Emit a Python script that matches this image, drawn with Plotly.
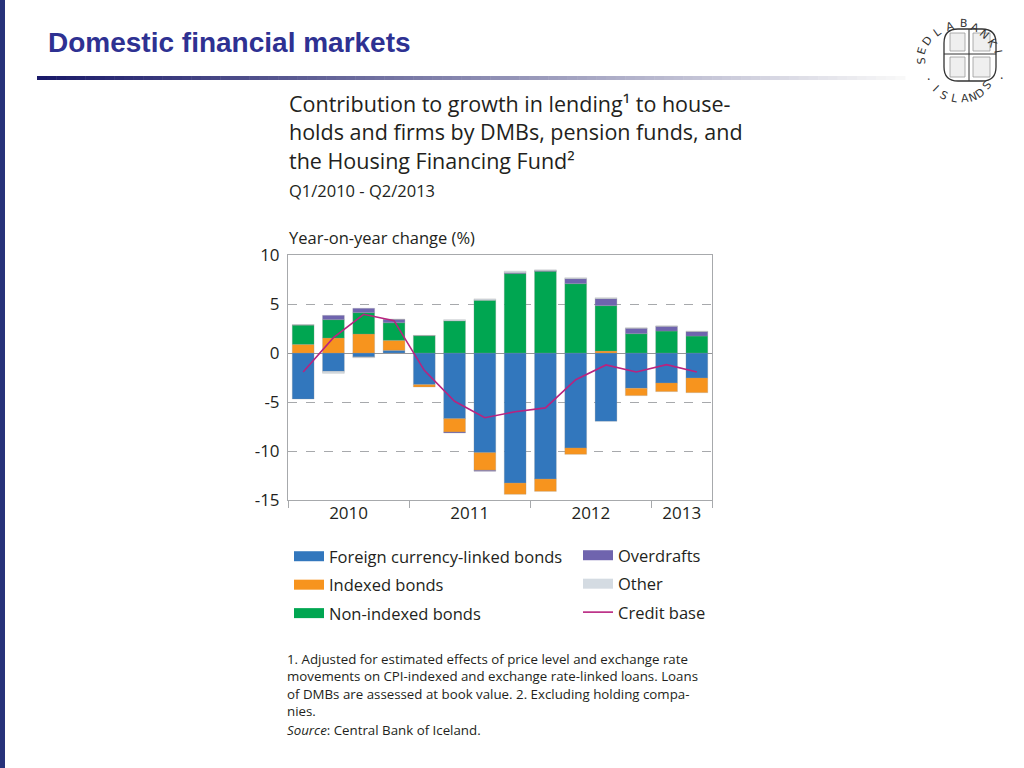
import plotly.graph_objects as go
import math

# ---------------- data ----------------
quarters = ["Q1/2010", "Q2/2010", "Q3/2010", "Q4/2010",
            "Q1/2011", "Q2/2011", "Q3/2011", "Q4/2011",
            "Q1/2012", "Q2/2012", "Q3/2012", "Q4/2012",
            "Q1/2013", "Q2/2013"]
foreign = [-4.70, -1.87, -0.40, 0.27, -3.23, -6.70, -10.17, -13.27, -12.86, -9.69, -6.97, -3.60, -3.06, -2.55]
indexed = [0.88, 1.53, 1.94, 1.02, -0.24, -1.36, -1.80, -1.15, -1.26, -0.65, 0.20, -0.75, -0.88, -1.50]
nonindexed = [1.97, 1.87, 2.18, 1.80, 1.77, 3.27, 5.37, 8.10, 8.33, 7.07, 4.63, 1.97, 2.24, 1.73]
overdrafts = [0.00, 0.44, 0.44, 0.34, 0.00, -0.10, -0.10, 0.10, 0.08, 0.51, 0.71, 0.55, 0.48, 0.45]
other = [0.05, -0.20, -0.08, 0.00, 0.03, 0.13, 0.15, 0.15, 0.08, 0.10, 0.10, 0.05, 0.05, 0.05]
credit_base = [-1.94, 1.56, 3.95, 3.30, -1.77, -4.93, -6.60, -6.00, -5.60, -2.72, -1.22, -1.94, -1.19, -1.94]

year_labels = ["2010", "2011", "2012", "2013"]
year_centers = [1.5, 5.5, 9.5, 12.5]
year_bounds = [-0.5, 3.5, 7.5, 11.5, 13.5]
y_ticks = [-15, -10, -5, 0, 5, 10]
y_tick_labels = ["-15", "-10", "-5", "0", "5", "10"]

footnote_lines = [
    "1. Adjusted for estimated effects of price level and exchange rate",
    "movements on CPI-indexed and exchange rate-linked loans. Loans",
    "of DMBs are assessed at book value. 2. Excluding holding compa-",
    "nies.",
]

x = list(range(len(quarters)))

W, H = 1024, 768
def px(v):
    return v / W
def py(v):
    return 1 - v / H

FONT = "Open Sans"
TXT = "#231f20"

fig = go.Figure()

series = [
    ("Foreign currency-linked bonds", foreign, "#3277bd", "legend"),
    ("Indexed bonds", indexed, "#f7941e", "legend"),
    ("Non-indexed bonds", nonindexed, "#00a651", "legend"),
    ("Overdrafts", overdrafts, "#6f64ae", "legend2"),
    ("Other", other, "#d4dbe2", "legend2"),
]
for name, vals, col, lg in series:
    fig.add_trace(go.Bar(
        x=x, y=vals, name=name, customdata=quarters,
        marker=dict(color=col, line=dict(color="rgba(150,150,150,0.5)", width=0.5)),
        legend=lg, legendgroup=name, showlegend=False,
        hovertemplate="%{customdata}: %{y}<extra>" + name + "</extra>",
    ))

fig.add_trace(go.Scatter(
    x=x, y=credit_base, name="Credit base", mode="lines", customdata=quarters,
    line=dict(color="#b8237f", width=1.6),
    legend="legend2", legendgroup="Credit base", showlegend=False,
    hovertemplate="%{customdata}: %{y}<extra>Credit base</extra>",
))

# legend entries (wide swatches like the original key)
for name, vals, col, lg in series:
    fig.add_trace(go.Scatter(
        x=[None], y=[None], mode="lines", name=name,
        line=dict(color=col, width=13), legend=lg, legendgroup=name,
        hoverinfo="skip",
    ))
fig.add_trace(go.Scatter(
    x=[None], y=[None], mode="lines", name="Credit base",
    line=dict(color="#b8237f", width=1.6), legend="legend2", legendgroup="Credit base",
    hoverinfo="skip",
))

axis_grey = "#a7a9ac"
fig.update_layout(
    width=W, height=H,
    margin=dict(l=0, r=0, t=0, b=0, autoexpand=False),
    paper_bgcolor="white", plot_bgcolor="white",
    barmode="relative", bargap=0.28,
    font=dict(family=FONT, color=TXT),
    xaxis=dict(
        domain=[px(288), px(712)],
        range=[-0.5, 13.5], automargin=False,
        tickmode="array", tickvals=year_centers, ticktext=year_labels,
        ticks="", showgrid=False, zeroline=False,
        tickfont=dict(size=17, color=TXT), ticklabelstandoff=-2,
        showline=True, linecolor=axis_grey, linewidth=1, mirror=True,
        minor=dict(tickmode="array", tickvals=year_bounds, ticks="outside",
                   ticklen=7, tickcolor=axis_grey, tickwidth=1, showgrid=False),
        fixedrange=True,
    ),
    yaxis=dict(
        domain=[py(500), py(255)],
        range=[-15, 10], automargin=False,
        tickmode="array", tickvals=y_ticks, ticktext=y_tick_labels,
        showgrid=True, gridcolor=axis_grey, griddash="dash", gridwidth=1,
        zeroline=True, zerolinecolor="#939598", zerolinewidth=1.2,
        showline=True, linecolor=axis_grey, linewidth=1, mirror=True,
        ticks="", tickfont=dict(size=17, color=TXT), ticklabelstandoff=4,
        fixedrange=True,
    ),
    legend=dict(
        x=px(289), y=py(539), xanchor="left", yanchor="top",
        orientation="v", traceorder="grouped", tracegroupgap=4,
        font=dict(size=16.5, color=TXT, family=FONT), itemwidth=30,
        bgcolor="rgba(0,0,0,0)",
    ),
    legend2=dict(
        x=px(578), y=py(538), xanchor="left", yanchor="top",
        orientation="v", traceorder="grouped", tracegroupgap=4,
        font=dict(size=16.5, color=TXT, family=FONT), itemwidth=30,
        bgcolor="rgba(0,0,0,0)",
    ),
    showlegend=True,
)

ann = []
shapes = []

# Page title
ann.append(dict(x=px(46), y=py(42), xref="paper", yref="paper", xanchor="left", yanchor="middle",
                text="<b>Domestic financial markets</b>", showarrow=False,
                font=dict(family="Liberation Sans", size=28, color="#2e3192")))

# Gradient rule under title
n = 90
x0, x1 = 37, 905
for i in range(n):
    t = i / (n - 1)
    r = int(26 + (248 - 26) * t)
    g = int(26 + (248 - 26) * t)
    b = int(105 + (248 - 105) * t)
    shapes.append(dict(type="rect", xref="paper", yref="paper",
                       x0=px(x0 + (x1 - x0) * i / n), x1=px(x0 + (x1 - x0) * (i + 1) / n + 0.5),
                       y0=py(80), y1=py(76), line=dict(width=0),
                       fillcolor=f"rgb({r},{g},{b})"))

# left edge strip
shapes.append(dict(type="rect", xref="paper", yref="paper", x0=0, x1=px(5), y0=0, y1=1,
                   line=dict(width=0), fillcolor="#27327a"))

# Logo (approximation of the Central Bank of Iceland seal)
cx, cy = 969, 54
fx0, fx1, fy0, fy1, rr = 944, 996, 29, 81, 14
def P(a, b):
    return f"{px(a)},{py(b)}"
path = (f"M {P(fx0 + rr, fy0)} L {P(fx1 - rr, fy0)} Q {P(fx1, fy0)} {P(fx1, fy0 + rr)} "
        f"L {P(fx1, fy1 - rr)} Q {P(fx1, fy1)} {P(fx1 - rr, fy1)} L {P(fx0 + rr, fy1)} "
        f"Q {P(fx0, fy1)} {P(fx0, fy1 - rr)} L {P(fx0, fy0 + rr)} Q {P(fx0, fy0)} {P(fx0 + rr, fy0)} Z")
shapes.append(dict(type="path", xref="paper", yref="paper", path=path,
                   line=dict(color="#333", width=1.3), fillcolor="white"))
shapes.append(dict(type="line", xref="paper", yref="paper", x0=px(969), x1=px(969), y0=py(fy1), y1=py(fy0),
                   line=dict(color="#333", width=1)))
shapes.append(dict(type="line", xref="paper", yref="paper", x0=px(fx0), x1=px(fx1), y0=py(54), y1=py(54),
                   line=dict(color="#333", width=1)))
for (a0, a1, b0, b1) in [(950, 965, 33, 51), (973, 990, 33, 51), (950, 965, 57, 77), (973, 990, 57, 77)]:
    shapes.append(dict(type="rect", xref="paper", yref="paper", x0=px(a0), x1=px(a1), y0=py(b1), y1=py(b0),
                       line=dict(color="#9a9a9a", width=0.8), fillcolor="#efefef"))
top = "SEDLABANKI"
for i, ch in enumerate(top):
    th = 182 - i * (170 / (len(top) - 1))
    lx = cx + 39 * math.cos(math.radians(th))
    ly = cy - 39 * math.sin(math.radians(th))
    ann.append(dict(x=px(lx), y=py(ly), xref="paper", yref="paper", text=ch, showarrow=False,
                    textangle=90 - th, font=dict(family="DejaVu Sans", size=11, color="#333")))
bot = "ISLANDS"
for i, ch in enumerate(bot):
    th = 226 + i * (96 / (len(bot) - 1))
    lx = cx + 36 * math.cos(math.radians(th))
    ly = cy - 36 * math.sin(math.radians(th))
    ann.append(dict(x=px(lx), y=py(ly), xref="paper", yref="paper", text=ch, showarrow=False,
                    textangle=-(th + 90), font=dict(family="DejaVu Sans", size=11, color="#333")))
for (dx, dy) in ((932, 68), (1005, 67)):
    ann.append(dict(x=px(dx), y=py(dy), xref="paper", yref="paper", text="·", showarrow=False,
                    font=dict(size=13, color="#333")))

# Chart title
title_lines = ["Contribution to growth in lending¹ to house-",
               "holds and firms by DMBs, pension funds, and",
               "the Housing Financing Fund²"]
for i, ln in enumerate(title_lines):
    ann.append(dict(x=px(287), y=py(103 + 28.5 * i), xref="paper", yref="paper", xanchor="left",
                    yanchor="middle", text=ln, showarrow=False,
                    font=dict(family=FONT, size=21.5, color=TXT)))
ann.append(dict(x=px(287), y=py(190), xref="paper", yref="paper", xanchor="left", yanchor="middle",
                text="Q1/2010 - Q2/2013", showarrow=False, font=dict(family=FONT, size=16.5, color=TXT)))
ann.append(dict(x=px(287), y=py(237), xref="paper", yref="paper", xanchor="left", yanchor="middle",
                text="Year-on-year change (%)", showarrow=False, font=dict(family=FONT, size=16.5, color=TXT)))

# Footnotes
for i, ln in enumerate(footnote_lines):
    ann.append(dict(x=px(285), y=py(659 + 17.4 * i), xref="paper", yref="paper", xanchor="left",
                    yanchor="middle", text=ln, showarrow=False,
                    font=dict(family=FONT, size=13.3, color=TXT)))
ann.append(dict(x=px(285), y=py(730), xref="paper", yref="paper", xanchor="left", yanchor="middle",
                text="<i>Source</i>: Central Bank of Iceland.", showarrow=False,
                font=dict(family=FONT, size=13.3, color=TXT)))

fig.update_layout(annotations=ann, shapes=shapes)

fig.write_html("out.html", config=dict(displayModeBar=False),
               post_script="document.body.style.margin='0';document.body.style.overflow='hidden';")
